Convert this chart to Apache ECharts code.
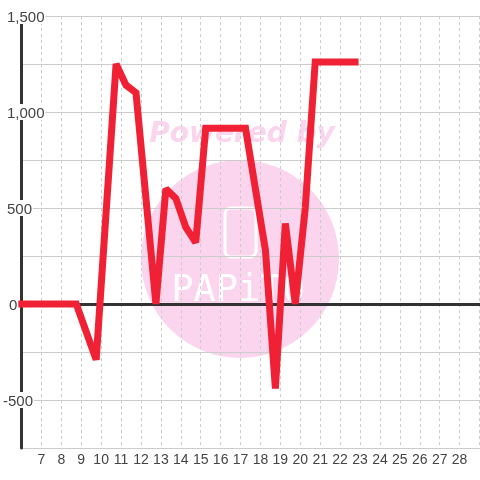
<!DOCTYPE html>
<html>
<head>
<meta charset="utf-8">
<style>html,body{margin:0;padding:0;background:#fff}#main{width:480px;height:480px}</style>
<script src="https://cdn.jsdelivr.net/npm/echarts@6/dist/echarts.min.js"></script>
</head>
<body>
<div id="main"></div>
<script>
// hour on the x axis, value on the y axis
var hours = [6, 8.75, 9.75, 10.75, 11.25, 11.75, 12.75, 13.25, 13.75, 14.25, 14.75, 15.25, 17.25, 18.25, 18.75, 19.25, 19.75, 20.25, 20.75, 22.75];
var values = [0, 0, -290, 1250, 1140, 1100, 0, 600, 550, 400, 320, 915, 915, 280, -440, 420, 0, 500, 1260, 1260];
var yLabels = [1500, 1000, 500, 0, -500];

var points = hours.map(function (h, i) { return [h, values[i]]; });
var myChart = echarts.init(document.getElementById('main'), null, { renderer: 'canvas' });

function fmtY(v) {
	if (yLabels.indexOf(v) < 0) return '';
	var s = Math.abs(v).toString().replace(/\B(?=(\d{3})+$)/g, ',');
	if (v < 0) return '{neg|-' + s + '}';
	if (v === 0) return '{zero|0}';
	return '{pos|' + s + '}';
}
var labelBg = { color: '#444', fontSize: 15, fontFamily: 'Liberation Sans', backgroundColor: '#fff', height: 12, lineHeight: 12 };

var option = {
	animation: false,
	backgroundColor: '#fff',
	grid: { left: 19.5, top: 16, width: 460, height: 432 },
	xAxis: [
		{
			type: 'value', min: 6, max: 29, interval: 1,
			axisLine: { onZero: false, lineStyle: { color: '#ccc', width: 1 } },
			axisTick: { show: false },
			axisLabel: { showMinLabel: false, showMaxLabel: false, fontSize: 14, color: '#444', fontFamily: 'Liberation Sans', margin: 5 },
			splitLine: { show: true, lineStyle: { color: '#ccc', type: [3, 3], width: 1 } }
		},
		{
			// the thick zero line
			type: 'value', min: 6, max: 29, interval: 1, position: 'bottom', z: 3,
			axisLine: { show: true, onZero: true, onZeroAxisIndex: 0, lineStyle: { color: '#333', width: 3 } },
			axisTick: { show: false }, axisLabel: { show: false }, splitLine: { show: false }
		}
	],
	yAxis: [
		{
			type: 'value', min: -750, max: 1500, interval: 250, z: 1,
			axisLine: { show: true, onZero: false, lineStyle: { color: '#333', width: 3 } },
			axisTick: { show: false }, axisLabel: { show: false },
			splitLine: { show: true, lineStyle: { color: '#ccc', width: 1 } }
		},
		{
			// labels sit over the line, so they get their own axis
			type: 'value', min: -750, max: 1500, interval: 250, z: 10, position: 'left',
			axisLine: { show: false, onZero: false }, axisTick: { show: false }, splitLine: { show: false },
			axisLabel: {
				align: 'left', margin: 18.5, showMinLabel: true, showMaxLabel: true,
				formatter: fmtY,
				rich: {
					neg: Object.assign({ padding: [4, 1, 0, 0] }, labelBg),
					pos: Object.assign({ padding: [4, 1, 0, 4] }, labelBg),
					zero: Object.assign({ padding: [4, 1, 0, 6] }, labelBg)
				}
			}
		}
	],
	graphic: [
		{ type: 'circle', z: -1, shape: { cx: 240, cy: 259, r: 99 }, style: { fill: '#fbd5ee' } },
		{ type: 'text', z: -1, style: { x: 242, y: 135, text: 'Powered by', fill: '#fbd5ee', font: 'italic bold 28px "DejaVu Sans"', textAlign: 'center', textVerticalAlign: 'middle' } },
		{ type: 'rect', z: -1, shape: { x: 225, y: 208, width: 31, height: 49, r: 6 }, style: { fill: 'none', stroke: '#fff', lineWidth: 3 } },
		{ type: 'text', z: -1, style: { x: 238, y: 291, text: 'PAPiTO', fill: '#fff', font: '37px "DejaVu Sans Mono"', textAlign: 'center', textVerticalAlign: 'middle' } }
	],
	series: [{
		type: 'line', data: points, xAxisIndex: 0, yAxisIndex: 0, z: 5,
		showSymbol: false, symbol: 'none', clip: false,
		lineStyle: { color: '#f02035', width: 7, cap: 'square', join: 'miter', miterLimit: 2 }
	}]
};
myChart.setOption(option);
</script>
</body>
</html>
